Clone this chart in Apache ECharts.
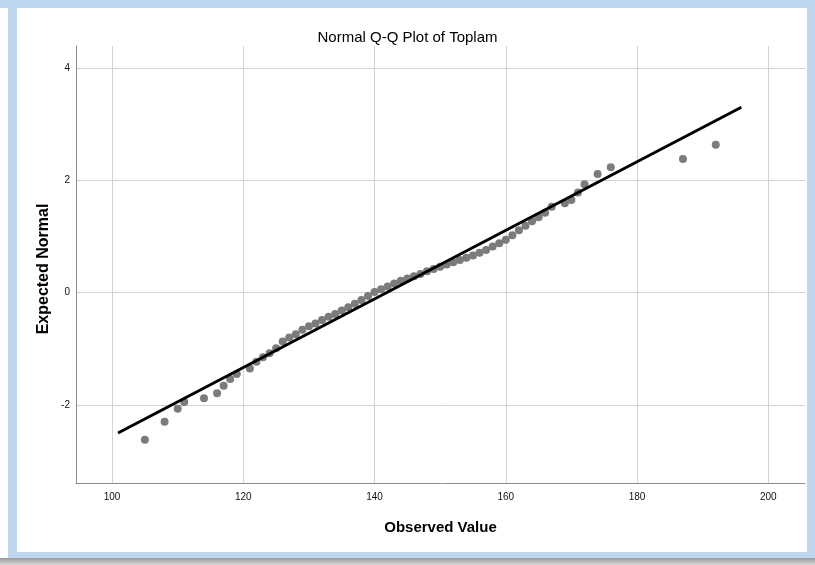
<!DOCTYPE html>
<html>
<head>
<meta charset="utf-8">
<script src="https://cdn.jsdelivr.net/npm/echarts@6/dist/echarts.min.js"></script>
<style>
html,body{margin:0;padding:0;background:#fff;}
#c{width:815px;height:565px;}
</style>
</head>
<body>
<div id="c"></div>
<script>
// Observed values (x) and expected normal values (y)
var observed = [105,108,110,111,114,116,117,118,119,121,122,123,124,125,126,127,128,129,130,131,132,133,134,135,136,137,138,139,140,141,142,143,144,145,146,147,148,149,150,151,152,153,154,155,156,157,158,159,160,161,162,163,164,165,166,167,169,170,171,172,174,176,187,192];
var expected = [-2.62,-2.30,-2.07,-1.95,-1.88,-1.79,-1.66,-1.54,-1.45,-1.35,-1.23,-1.15,-1.08,-0.99,-0.87,-0.80,-0.74,-0.66,-0.60,-0.55,-0.49,-0.43,-0.38,-0.32,-0.26,-0.20,-0.13,-0.06,0.01,0.06,0.11,0.16,0.21,0.25,0.29,0.33,0.38,0.42,0.46,0.50,0.54,0.58,0.62,0.66,0.71,0.76,0.82,0.88,0.94,1.02,1.11,1.19,1.27,1.34,1.42,1.53,1.59,1.65,1.78,1.93,2.11,2.23,2.38,2.63];
// Reference line endpoints
var lineX = [100.9, 195.9];
var lineY = [-2.50, 3.30];
// Tick labels
var xTicks = [100,120,140,160,180,200];
var yTicks = [-2,0,2,4];

var chart = echarts.init(document.getElementById('c'), null, {renderer:'canvas'});
var pts = observed.map(function(v,i){return [v, expected[i]];});
var ln = lineX.map(function(v,i){return [v, lineY[i]];});
var FONT = '"Liberation Sans", Arial, sans-serif';

chart.setOption({
  backgroundColor:'#ffffff',
  animation:false,
  graphic:[
    {type:'rect', z:-10, silent:true, shape:{x:0,y:0,width:815,height:8}, style:{fill:'#bfd7ee'}},
    {type:'rect', z:-10, silent:true, shape:{x:8,y:0,width:9,height:558}, style:{fill:'#bfd7ee'}},
    {type:'rect', z:-10, silent:true, shape:{x:807,y:0,width:8,height:558}, style:{fill:'#bfd7ee'}},
    {type:'rect', z:-10, silent:true, shape:{x:8,y:552,width:807,height:6}, style:{fill:'#bfd7ee'}},
    {type:'rect', z:-10, silent:true, shape:{x:0,y:558,width:815,height:7}, style:{fill:new echarts.graphic.LinearGradient(0,0,0,1,[{offset:0,color:'#9a9a9a'},{offset:1,color:'#d8d8d8'}])}},
    {type:'text', silent:true, x:44, y:269, rotation:Math.PI/2,
     style:{text:'Expected Normal', fill:'#000', font:'bold 16px "Liberation Sans", Arial, sans-serif', textAlign:'center', textVerticalAlign:'middle'}}
  ],
  title:{
    text:'Normal Q-Q Plot of Toplam',
    left:'center', top:25,
    textStyle:{fontFamily:FONT, fontSize:15, fontWeight:'normal', color:'#000'}
  },
  grid:{left:76, top:46, right:10, bottom:82, containLabel:false},
  xAxis:{
    type:'value', min:94.5, max:205.6,
    name:'Observed Value', nameLocation:'middle', nameGap:37,
    nameTextStyle:{fontFamily:FONT, fontSize:15, fontWeight:'bold', color:'#000'},
    axisLine:{show:true, onZero:false, lineStyle:{color:'#8c8c8c', width:1}},
    axisTick:{show:false, customValues:xTicks},
    axisLabel:{customValues:xTicks, fontFamily:FONT, fontSize:10, color:'#111', margin:9},
    splitLine:{show:true, lineStyle:{color:'#d3d3d3', width:1}}
  },
  yAxis:{
    type:'value', min:-3.39, max:4.39,
    axisLine:{show:true, onZero:false, lineStyle:{color:'#8c8c8c', width:1}},
    axisTick:{show:false, customValues:yTicks},
    axisLabel:{customValues:yTicks, fontFamily:FONT, fontSize:10, color:'#111', margin:6},
    splitLine:{show:true, lineStyle:{color:'#d3d3d3', width:1}}
  },
  series:[
    {type:'scatter', data:pts, symbol:'circle', symbolSize:8, itemStyle:{color:'#7b7b7b', opacity:1}, z:2},
    {type:'line', data:ln, symbol:'none', lineStyle:{color:'#000', width:3}, z:3}
  ]
});
</script>
</body>
</html>
